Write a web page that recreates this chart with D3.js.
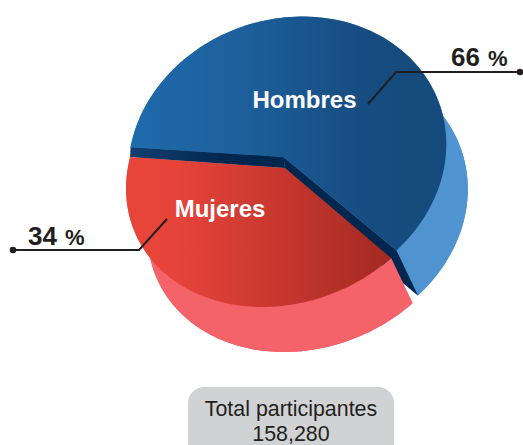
<!DOCTYPE html>
<html><head><meta charset="utf-8">
<script src="https://cdn.jsdelivr.net/npm/d3@7"></script>
<style>html,body{margin:0;padding:0;background:#fff;overflow:hidden}svg{display:block;font-family:"Liberation Sans",Arial,sans-serif}</style>
</head><body><script>
const categories = ["Mujeres", "Hombres"];
const values = [34, 66];
const totalLabel = "Total participantes";
const totalValue = 158280;

const W = 523, H = 445, rad = Math.PI / 180;
const svg = d3.select("body").append("svg").attr("width", W).attr("height", H);
const defs = svg.append("defs");
function grad(id, stops) {
  const g = defs.append("linearGradient").attr("id", id);
  stops.forEach(s => g.append("stop").attr("offset", s[0]).attr("stop-color", s[1]));
}
grad("gBlue", [[0, "#1f6bac"], [0.35, "#1d5f9c"], [0.75, "#164c80"], [1, "#154a7c"]]);
grad("gRed", [[0, "#e8453a"], [0.2, "#e6433a"], [1, "#a32a22"]]);
grad("gBand", [[0, "#134070"], [0.6, "#02274f"], [1, "#02274f"]]);

// The tilted, skewed drawing foreshortens the sectors: pie angle -> drawn angle
const pie = d3.pie().sort(null).value(d => d);
const arcs = pie(values);
const sweep = [[130.4, 274.5], [274.2, 491.2]];
const slices = arcs.map((s, i) => {
  const a = d3.scaleLinear().domain([s.startAngle, s.endAngle]).range(sweep[i].map(v => v * rad));
  return {name: categories[i], a0: a(s.startAngle), a1: a(s.endAngle)};
});

const off = [21.5, 45];
const gB = {cx: 287.3, cy: 157.5, rx: 158.3, ry: 141, s: 0.107, apex: [283.5, 157], wall: "#4f94d1", top: "url(#gBlue)"};
const gR = {cx: 286, cy: 168, rx: 158.2, ry: 139, s: 0.17, apex: [285, 168], wall: "#f5636a", top: "url(#gRed)"};
const pt = (g, a, d = [0, 0]) => {
  const X = g.rx * Math.sin(a), Y = -g.ry * Math.cos(a);
  return [g.cx + X - g.s * Y + d[0], g.cy + Y + d[1]];
};
const plus = (p, d) => [p[0] + d[0], p[1] + d[1]];
const line = d3.line();
const sweepAngles = s => d3.range(121).map(i => s.a0 + (s.a1 - s.a0) * i / 120);

function face(s, g, fill, d = [0, 0]) {
  const pts = [plus(g.apex, d)].concat(sweepAngles(s).map(a => pt(g, a, d)));
  svg.append("path").attr("d", line(pts) + "Z").attr("fill", fill);
}
function rim(s, g) {
  const as = sweepAngles(s);
  const pts = as.map(a => pt(g, a)).concat(as.slice().reverse().map(a => pt(g, a, off)));
  svg.append("path").attr("d", line(pts) + "Z").attr("fill", g.wall);
}

const red = slices[0], blue = slices[1];

// Hombres: lower face, rim, cut face, top
face(blue, gB, gB.wall, off);
rim(blue, gB);
const cB = pt(gB, blue.a1);
svg.append("path").attr("fill", "#02274f")
  .attr("d", line([gR.apex, gB.apex, cB, plus(cB, off), plus(gB.apex, off)]) + "Z");
face(blue, gB, gB.top);

// Band between the two sectors
svg.append("path").attr("fill", "url(#gBand)")
  .attr("d", line([pt(gB, blue.a0), gB.apex, gR.apex, pt(gR, red.a1)]) + "Z");

// Mujeres: lower face, rim, top
face(red, gR, gR.wall, off);
rim(red, gR);
face(red, gR, gR.top);

// Labels inside
svg.append("text").attr("x", 304.5).attr("y", 108).attr("text-anchor", "middle")
  .attr("font-size", 24).attr("font-weight", "bold").attr("fill", "#fff").text(categories[1]);
svg.append("text").attr("x", 220).attr("y", 217).attr("text-anchor", "middle")
  .attr("font-size", 24).attr("font-weight", "bold").attr("fill", "#fff").text(categories[0]);

// Leaders
function leader(points, dot) {
  svg.append("path").attr("d", line(points)).attr("fill", "none").attr("stroke", "#231f20").attr("stroke-width", 2);
  svg.append("circle").attr("cx", dot[0]).attr("cy", dot[1]).attr("r", 3.3).attr("fill", "#231f20");
}
leader([[368, 104], [396, 72], [520, 72]], [520, 72]);
leader([[167, 219], [139, 250], [13, 250]], [13, 250]);

function pct(x, y, v) {
  const t = svg.append("text").attr("x", x).attr("y", y).attr("font-weight", "bold").attr("fill", "#231f20");
  t.append("tspan").attr("font-size", 26).text(v);
  t.append("tspan").attr("font-size", 22).attr("dx", 8).text("%");
}
pct(451, 66, values[1]);
pct(28, 245, values[0]);

// Total box
svg.append("rect").attr("x", 188).attr("y", 387).attr("width", 206).attr("height", 80).attr("rx", 16).attr("fill", "#d1d2d4");
svg.append("text").attr("x", 291).attr("y", 416).attr("text-anchor", "middle").attr("font-size", 21.4).attr("fill", "#231f20").text(totalLabel);
svg.append("text").attr("x", 291).attr("y", 441).attr("text-anchor", "middle").attr("font-size", 21.4).attr("fill", "#231f20").text(d3.format(",")(totalValue));
</script></body></html>
